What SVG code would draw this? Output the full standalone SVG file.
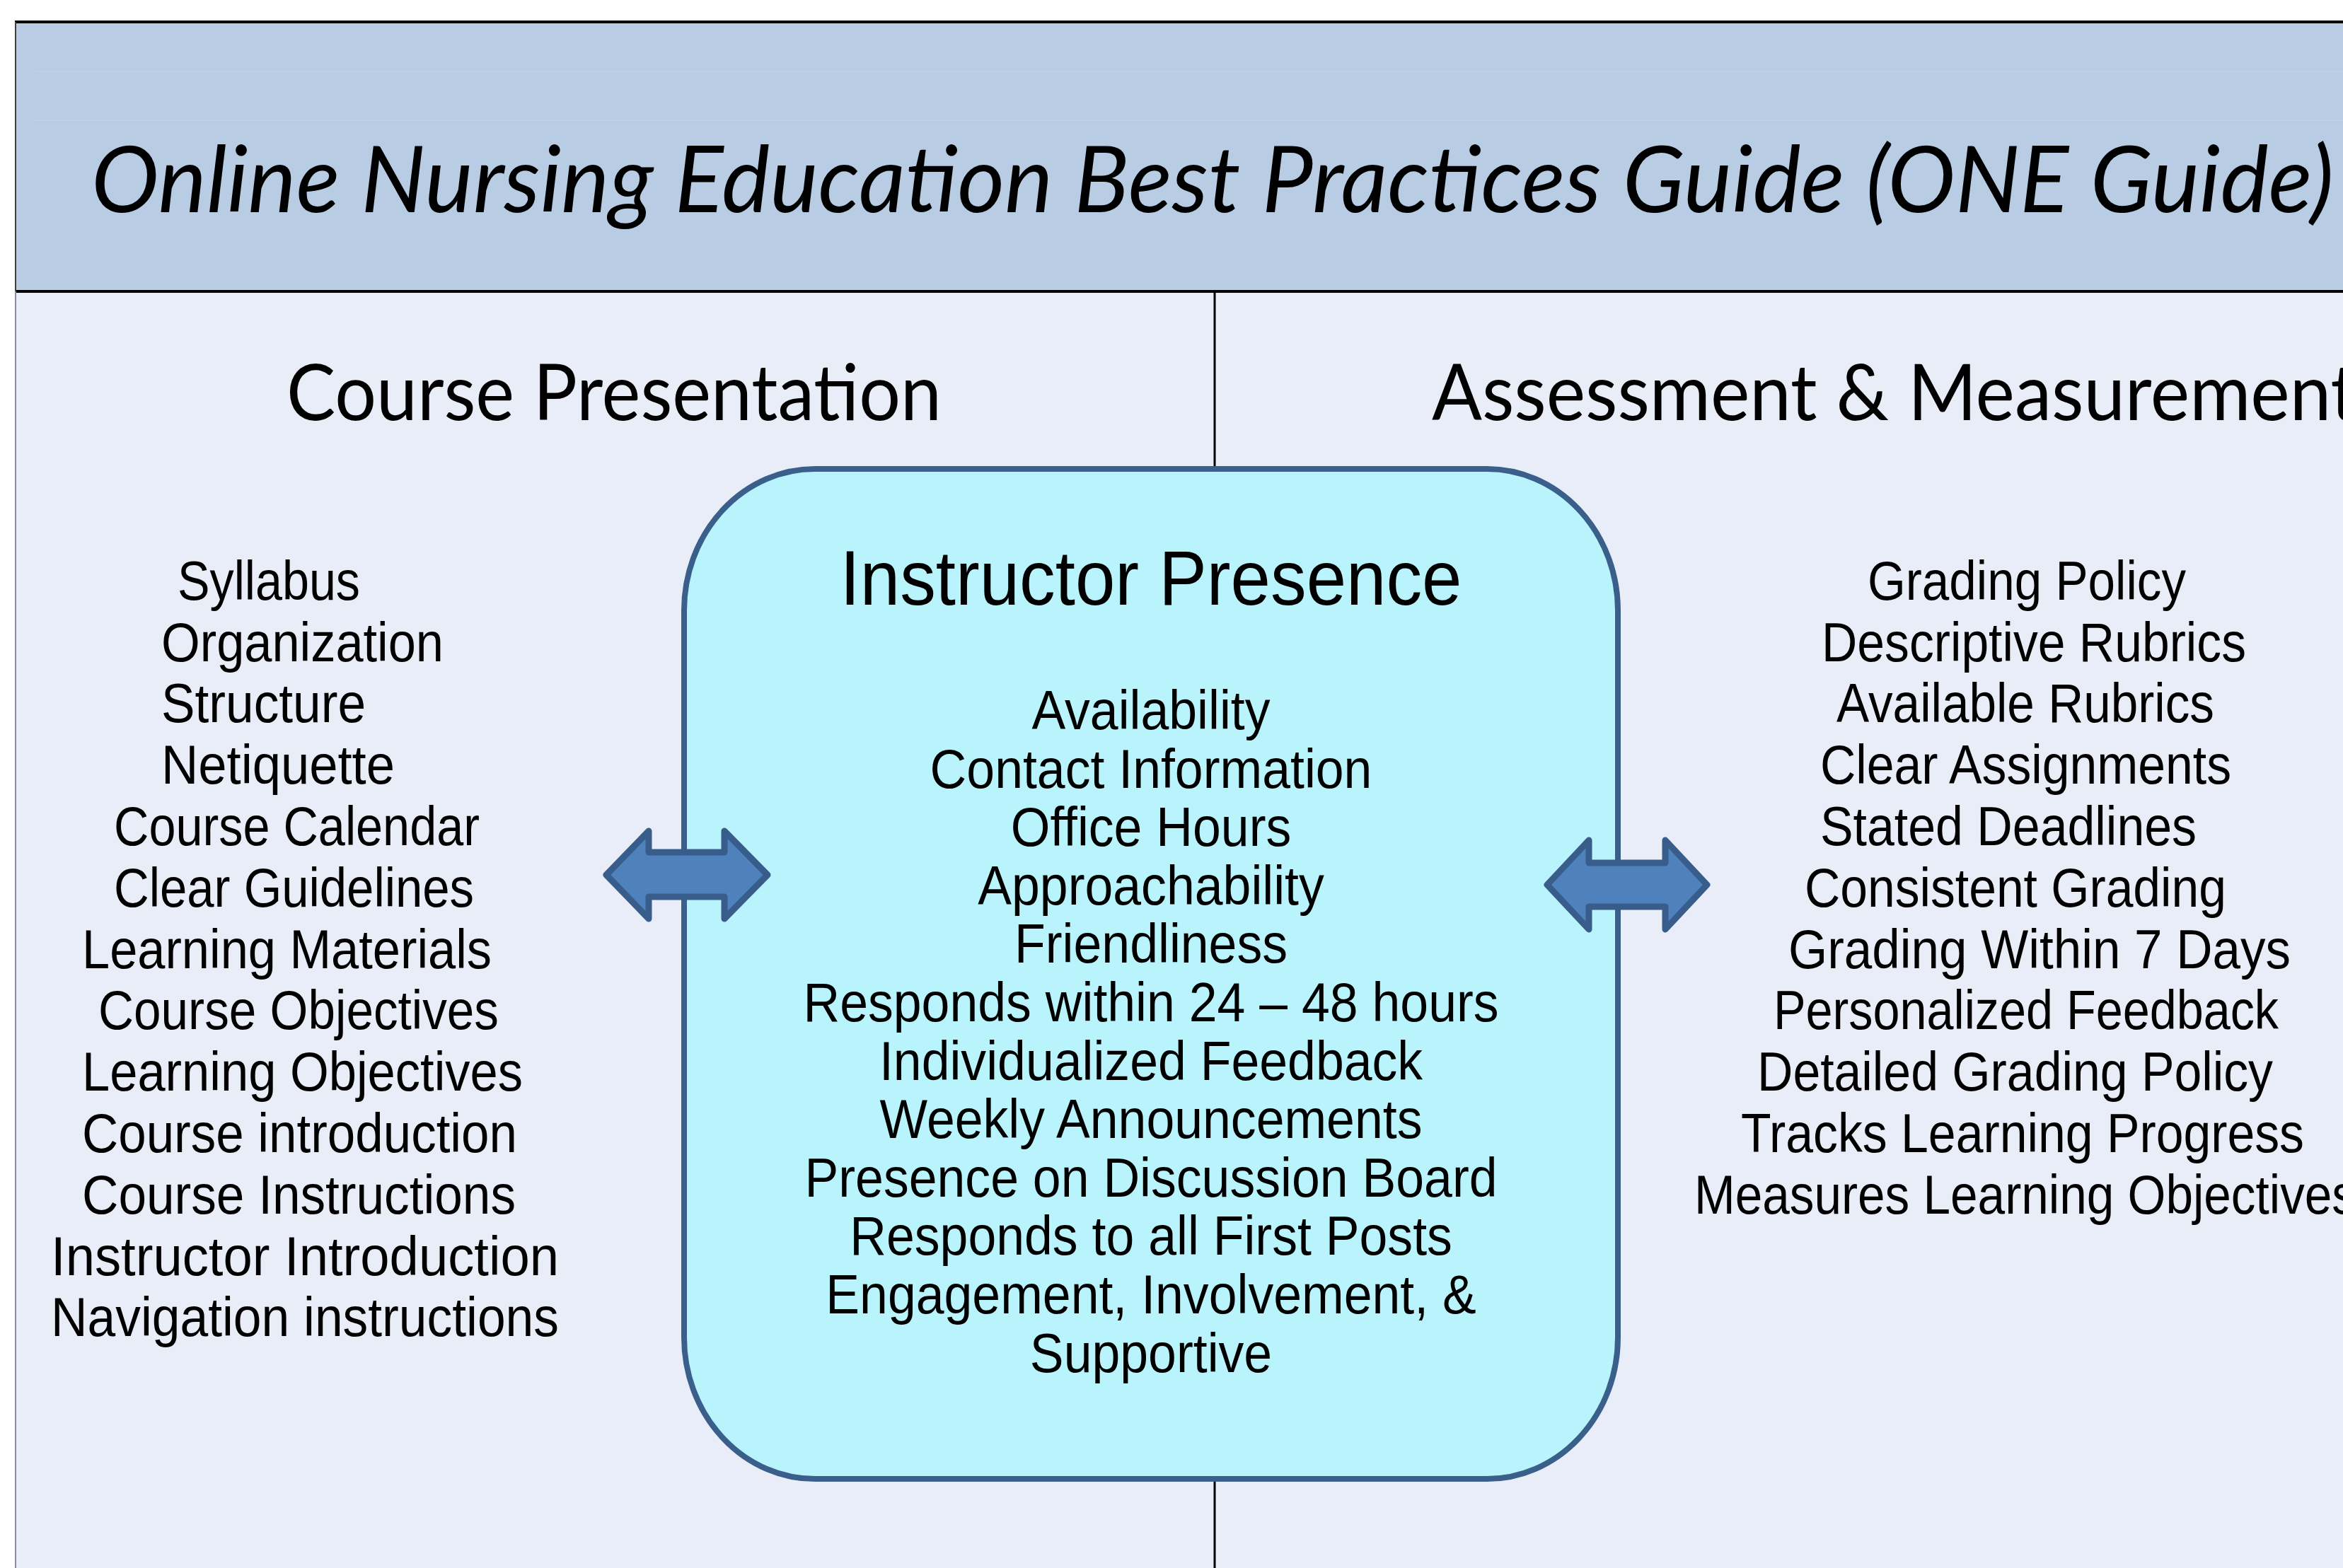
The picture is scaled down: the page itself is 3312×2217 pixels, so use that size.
<svg xmlns="http://www.w3.org/2000/svg" width="3312" height="2217" viewBox="0 0 3312 2217">
  <style>
    .head { font-family: Lato, "Open Sans", "Liberation Sans", sans-serif; fill: #000; }
    .item { font-family: "Liberation Sans", Arial, sans-serif; font-size: 77px; fill: #000; }
    .frame { stroke: #000; fill: none; }
    .arrow { fill: #4F81BD; stroke: #385D8A; stroke-width: 9; stroke-linejoin: round; }
  </style>
  <rect x="0" y="0" width="3312" height="2217" fill="#FFFFFF"/>
  <g id="background">
    <rect x="21" y="31" width="3291" height="381" fill="#B8CCE4"/>
    <rect x="21" y="412" width="3291" height="1805" fill="#E9EDF8"/>
    <line x1="50" y1="101" x2="3312" y2="101" stroke="#C0D3EA" stroke-width="1.5"/>
    <line x1="50" y1="170" x2="3312" y2="170" stroke="#C0D3EA" stroke-width="1.5"/>
    <line class="frame" x1="21" y1="31" x2="3312" y2="31" stroke-width="4"/>
    <line class="frame" x1="21" y1="412" x2="3312" y2="412" stroke-width="4"/>
    <line x1="22" y1="31" x2="22" y2="412" stroke="#404040" stroke-width="2"/>
    <line x1="22" y1="412" x2="22" y2="2217" stroke="#8A8FA0" stroke-width="2"/>
    <line class="frame" x1="1717" y1="412" x2="1717" y2="665" stroke-width="3"/>
    <line class="frame" x1="1717" y1="2090" x2="1717" y2="2217" stroke-width="3"/>
  </g>
  <g id="title">
    <text class="head" x="129" y="300" font-size="130" font-style="italic" textLength="3170" lengthAdjust="spacingAndGlyphs">Online Nursing Education Best Practices Guide (ONE Guide)</text>
  </g>
  <g id="course-presentation">
    <text class="head" x="405" y="594" font-size="110" textLength="926" lengthAdjust="spacingAndGlyphs">Course Presentation</text>
    <g>
      <text class="item" x="251" y="848" textLength="258" lengthAdjust="spacingAndGlyphs">Syllabus</text>
      <text class="item" x="228" y="935" textLength="399" lengthAdjust="spacingAndGlyphs">Organization</text>
      <text class="item" x="228" y="1021" textLength="289" lengthAdjust="spacingAndGlyphs">Structure</text>
      <text class="item" x="228" y="1108" textLength="330" lengthAdjust="spacingAndGlyphs">Netiquette</text>
      <text class="item" x="161" y="1195" textLength="517" lengthAdjust="spacingAndGlyphs">Course Calendar</text>
      <text class="item" x="161" y="1282" textLength="509" lengthAdjust="spacingAndGlyphs">Clear Guidelines</text>
      <text class="item" x="116" y="1369" textLength="579" lengthAdjust="spacingAndGlyphs">Learning Materials</text>
      <text class="item" x="139" y="1455" textLength="566" lengthAdjust="spacingAndGlyphs">Course Objectives</text>
      <text class="item" x="116" y="1542" textLength="623" lengthAdjust="spacingAndGlyphs">Learning Objectives</text>
      <text class="item" x="116" y="1629" textLength="615" lengthAdjust="spacingAndGlyphs">Course introduction</text>
      <text class="item" x="116" y="1716" textLength="613" lengthAdjust="spacingAndGlyphs">Course Instructions</text>
      <text class="item" x="72" y="1803" textLength="718" lengthAdjust="spacingAndGlyphs">Instructor Introduction</text>
      <text class="item" x="72" y="1889" textLength="718" lengthAdjust="spacingAndGlyphs">Navigation instructions</text>
    </g>
  </g>
  <g id="assessment-measurement">
    <text class="head" x="2024" y="594" font-size="110" textLength="1308" lengthAdjust="spacingAndGlyphs">Assessment &amp; Measurement</text>
    <g>
      <text class="item" x="2640" y="848" textLength="450" lengthAdjust="spacingAndGlyphs">Grading Policy</text>
      <text class="item" x="2575" y="935" textLength="600" lengthAdjust="spacingAndGlyphs">Descriptive Rubrics</text>
      <text class="item" x="2596" y="1021" textLength="534" lengthAdjust="spacingAndGlyphs">Available Rubrics</text>
      <text class="item" x="2573" y="1108" textLength="581" lengthAdjust="spacingAndGlyphs">Clear Assignments</text>
      <text class="item" x="2573" y="1195" textLength="532" lengthAdjust="spacingAndGlyphs">Stated Deadlines</text>
      <text class="item" x="2551" y="1282" textLength="596" lengthAdjust="spacingAndGlyphs">Consistent Grading</text>
      <text class="item" x="2528" y="1369" textLength="710" lengthAdjust="spacingAndGlyphs">Grading Within 7 Days</text>
      <text class="item" x="2507" y="1455" textLength="714" lengthAdjust="spacingAndGlyphs">Personalized Feedback</text>
      <text class="item" x="2484" y="1542" textLength="729" lengthAdjust="spacingAndGlyphs">Detailed Grading Policy</text>
      <text class="item" x="2461" y="1629" textLength="796" lengthAdjust="spacingAndGlyphs">Tracks Learning Progress</text>
      <text class="item" x="2395" y="1716" textLength="936" lengthAdjust="spacingAndGlyphs">Measures Learning Objectives</text>
    </g>
  </g>
  <g id="instructor-presence">
    <rect x="967" y="663" width="1320" height="1428" rx="185" ry="200" fill="#B9F4FD" stroke="#3A5F8B" stroke-width="8"/>
    <g transform="scale(0.93 1)" text-anchor="middle">
      <text class="item" x="1749.5" y="855" style="font-size:109px">Instructor Presence</text>
      <text class="item" x="1749.5" y="1031">Availability</text>
      <text class="item" x="1749.5" y="1114">Contact Information</text>
      <text class="item" x="1749.5" y="1196">Office Hours</text>
      <text class="item" x="1749.5" y="1279">Approachability</text>
      <text class="item" x="1749.5" y="1361">Friendliness</text>
      <text class="item" x="1749.5" y="1444">Responds within 24 – 48 hours</text>
      <text class="item" x="1749.5" y="1527">Individualized Feedback</text>
      <text class="item" x="1749.5" y="1609">Weekly Announcements</text>
      <text class="item" x="1749.5" y="1692">Presence on Discussion Board</text>
      <text class="item" x="1749.5" y="1774">Responds to all First Posts</text>
      <text class="item" x="1749.5" y="1857">Engagement, Involvement, &amp;</text>
      <text class="item" x="1749.5" y="1940">Supportive</text>
    </g>
  </g>
  <g id="connectors">
    <path class="arrow" d="M 857 1237 L 917 1175 L 917 1205 L 1024 1205 L 1024 1175 L 1085 1237 L 1024 1299 L 1024 1268 L 917 1268 L 917 1299 Z"/>
    <path class="arrow" d="M 2187 1251 L 2246 1188 L 2246 1220 L 2354 1220 L 2354 1188 L 2413 1251 L 2354 1314 L 2354 1282 L 2246 1282 L 2246 1314 Z"/>
  </g>
</svg>
